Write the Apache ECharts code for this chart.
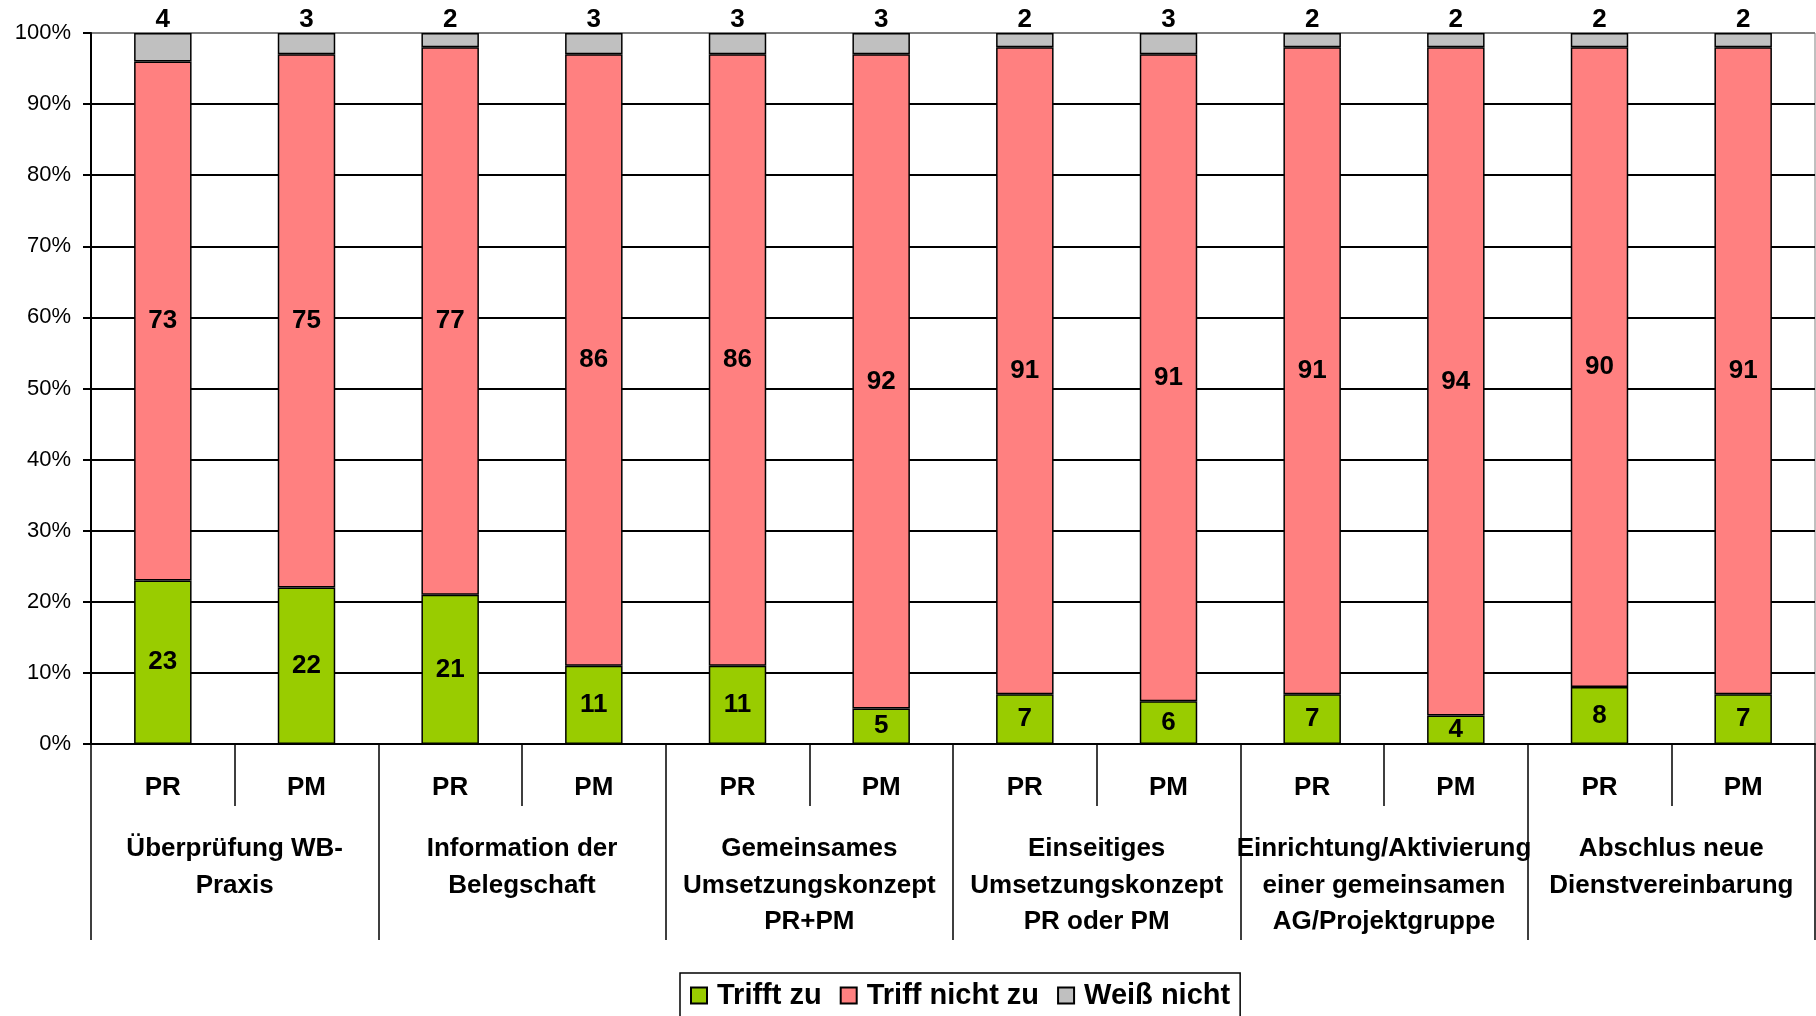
<!DOCTYPE html>
<html>
<head>
<meta charset="utf-8">
<script src="https://cdn.jsdelivr.net/npm/echarts@6/dist/echarts.min.js"></script>
<style>
html,body{margin:0;padding:0;background:#fff;}
#chart{width:1816px;height:1016px;}
</style>
</head>
<body>
<div id="chart"></div>
<script>
var subCategories = ['PR','PM','PR','PM','PR','PM','PR','PM','PR','PM','PR','PM'];
var groupCategories = [
  'Überprüfung WB-\nPraxis',
  'Information der\nBelegschaft',
  'Gemeinsames\nUmsetzungskonzept\nPR+PM',
  'Einseitiges\nUmsetzungskonzept\nPR oder PM',
  'Einrichtung/Aktivierung\neiner gemeinsamen\nAG/Projektgruppe',
  'Abschlus neue\nDienstvereinbarung'
];
var trifftZu = [23,22,21,11,11,5,7,6,7,4,8,7];
var triffNichtZu = [73,75,77,86,86,92,91,91,91,94,90,91];
var weissNicht = [4,3,2,3,3,3,2,3,2,2,2,2];
var yTicks = ['0%','10%','20%','30%','40%','50%','60%','70%','80%','90%','100%'];

var FONT = '"Liberation Sans", Arial, sans-serif';
var chart = echarts.init(document.getElementById('chart'), null, {renderer:'canvas'});

var splitColors = [];
for (var i = 0; i < yTicks.length; i++) splitColors.push(i === yTicks.length - 1 ? '#808080' : '#000000');

function mkSeries(name, data, color, pos, dist) {
  return {
    name: name,
    type: 'bar',
    stack: 'total',
    xAxisIndex: 0,
    data: data,
    barCategoryGap: '60%',
    itemStyle: {color: color, borderColor: '#000', borderWidth: 1.5},
    label: {
      show: true,
      position: pos,
      distance: dist,
      color: '#000',
      fontFamily: FONT,
      fontWeight: 'bold',
      fontSize: 26
    }
  };
}

chart.setOption({
  animation: false,
  backgroundColor: '#fff',
  grid: {left: 91, right: 1, top: 33, bottom: 272, show: true, borderColor: '#808080', borderWidth: 1, backgroundColor: 'transparent'},
  legend: {
    left: 680,
    top: 973,
    orient: 'horizontal',
    padding: [8, 10, 9, 10],
    borderColor: '#000',
    borderWidth: 1.5,
    itemWidth: 16,
    itemHeight: 16,
    itemGap: 18,
    icon: 'rect',
    textStyle: {fontFamily: FONT, fontWeight: 'bold', fontSize: 29, color: '#000', padding: [0, 0, 0, 5]},
    data: ['Trifft zu', 'Triff nicht zu', 'Weiß nicht']
  },
  xAxis: [
    {
      type: 'category',
      data: subCategories,
      position: 'bottom',
      axisLine: {show: true, lineStyle: {color: '#000', width: 2}},
      axisTick: {show: true, interval: 0, length: 62, lineStyle: {color: '#000', width: 1.5}},
      axisLabel: {interval: 0, margin: 31, fontFamily: FONT, fontWeight: 'bold', fontSize: 26, color: '#000'},
      splitLine: {show: false}
    },
    {
      type: 'category',
      data: groupCategories,
      position: 'bottom',
      axisLine: {show: false},
      axisTick: {show: true, interval: 0, length: 196, lineStyle: {color: '#000', width: 1.5}},
      axisLabel: {interval: 0, margin: 87, fontFamily: FONT, fontWeight: 'bold', fontSize: 26, lineHeight: 36.5, color: '#000', align: 'center'},
      splitLine: {show: false}
    }
  ],
  yAxis: {
    type: 'value',
    min: 0,
    max: 100,
    interval: 10,
    axisLine: {show: true, lineStyle: {color: '#000', width: 2}},
    axisTick: {show: true, length: 8, lineStyle: {color: '#000', width: 2}},
    axisLabel: {
      margin: 20,
      fontFamily: FONT,
      fontSize: 22,
      color: '#000',
      formatter: function (v) { return yTicks[Math.round(v / 10)]; }
    },
    splitLine: {show: true, lineStyle: {color: splitColors, width: 2}}
  },
  series: [
    mkSeries('Trifft zu', trifftZu, '#99CC00', 'inside', 4),
    mkSeries('Triff nicht zu', triffNichtZu, '#FF8080', 'inside', 4),
    mkSeries('Weiß nicht', weissNicht, '#C0C0C0', 'top', 0)
  ]
});
</script>
</body>
</html>
